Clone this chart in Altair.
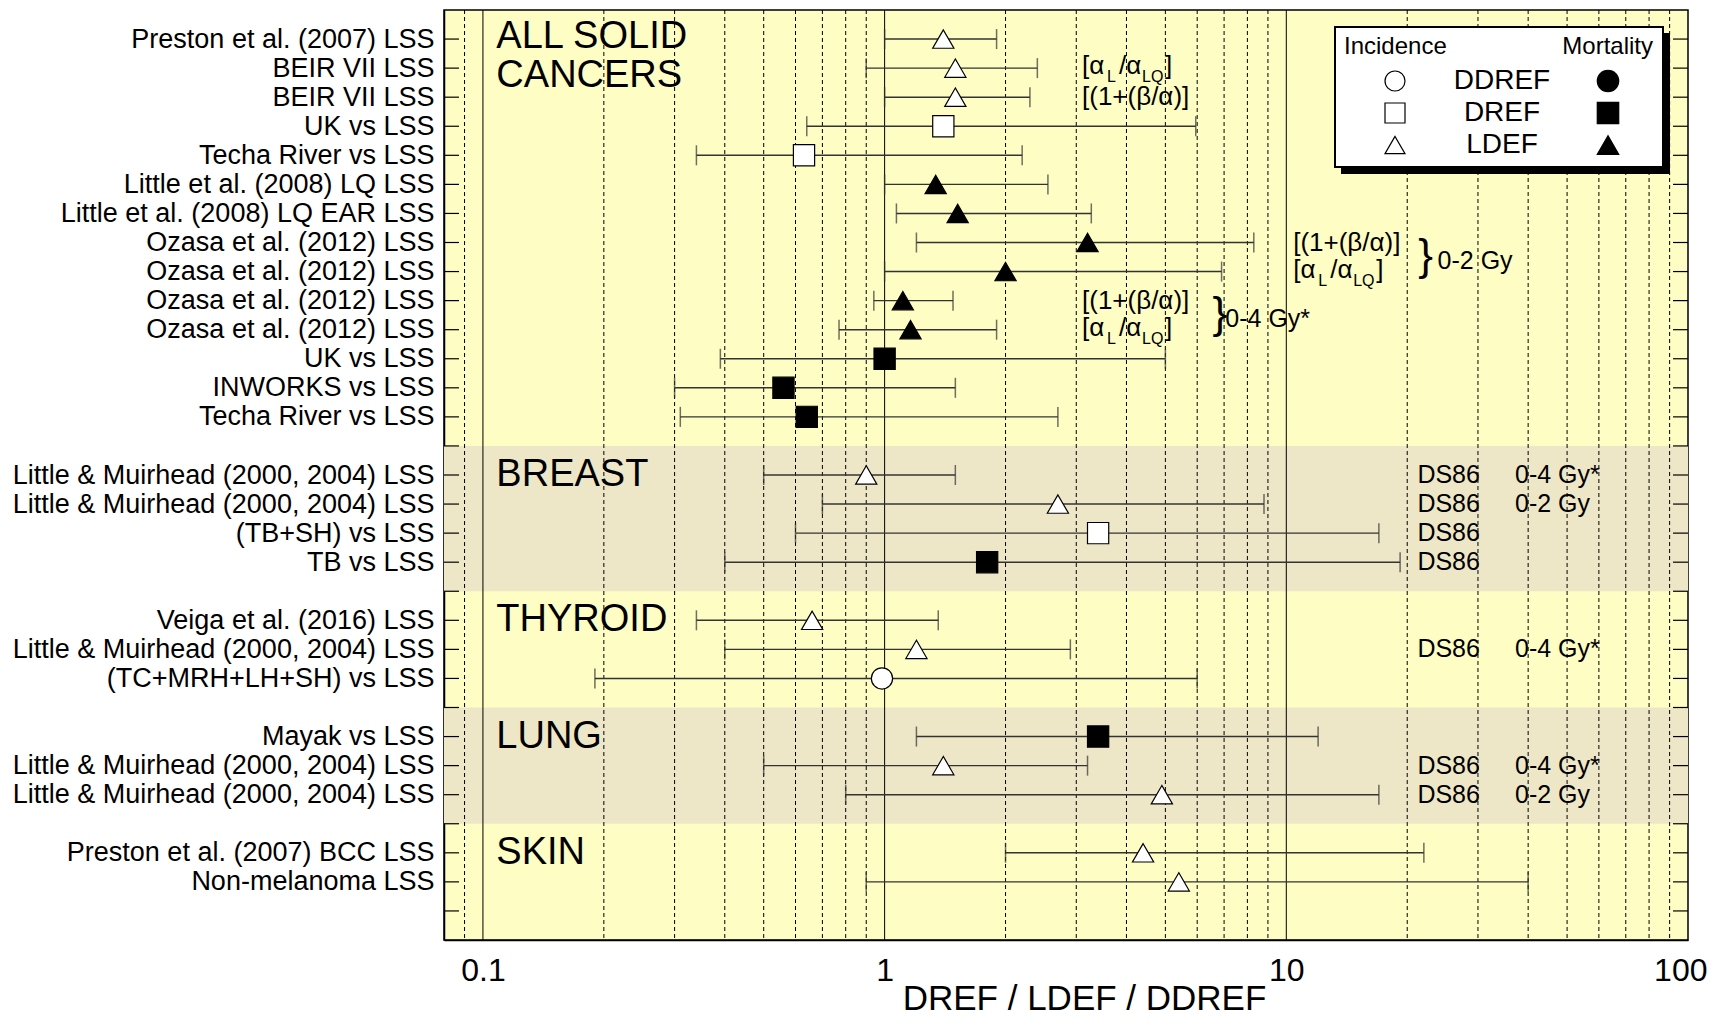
import json
import altair as alt
import pandas as pd

FONT = "Liberation Sans, Arial, Helvetica, sans-serif"
YELLOW = "#FDFDC4"
BEIGE = "#EEE7C7"
LINE = "#333333"

# ---------------- data ----------------
groups = ["ALL SOLID\nCANCERS", "BREAST", "THYROID", "LUNG", "SKIN"]
shaded_groups = ["BREAST", "LUNG"]

labels = [
    "Preston et al. (2007) LSS", "BEIR VII LSS", "BEIR VII LSS", "UK vs LSS",
    "Techa River vs LSS", "Little et al. (2008) LQ LSS", "Little et al. (2008) LQ EAR LSS",
    "Ozasa et al. (2012) LSS", "Ozasa et al. (2012) LSS", "Ozasa et al. (2012) LSS",
    "Ozasa et al. (2012) LSS", "UK vs LSS", "INWORKS vs LSS", "Techa River vs LSS",
    "Little & Muirhead (2000, 2004) LSS", "Little & Muirhead (2000, 2004) LSS",
    "(TB+SH) vs LSS", "TB vs LSS",
    "Veiga et al. (2016) LSS", "Little & Muirhead (2000, 2004) LSS", "(TC+MRH+LH+SH) vs LSS",
    "Mayak vs LSS", "Little & Muirhead (2000, 2004) LSS", "Little & Muirhead (2000, 2004) LSS",
    "Preston et al. (2007) BCC LSS", "Non-melanoma LSS",
]
group_of = ["ALL SOLID\nCANCERS"] * 14 + ["BREAST"] * 4 + ["THYROID"] * 3 + ["LUNG"] * 3 + ["SKIN"] * 2
measure = [
    "LDEF", "LDEF", "LDEF", "DREF", "DREF", "LDEF", "LDEF", "LDEF", "LDEF", "LDEF", "LDEF",
    "DREF", "DREF", "DREF",
    "LDEF", "LDEF", "DREF", "DREF",
    "LDEF", "LDEF", "DDREF",
    "DREF", "LDEF", "LDEF",
    "LDEF", "LDEF",
]
endpoint = (["Incidence"] * 5 + ["Mortality"] * 9 + ["Incidence"] * 3 + ["Mortality"]
            + ["Incidence"] * 3 + ["Mortality"] + ["Incidence"] * 4)
estimate = [1.40, 1.50, 1.50, 1.40, 0.63, 1.34, 1.52, 3.20, 2.00, 1.11, 1.16, 1.00, 0.56, 0.64,
            0.90, 2.70, 3.40, 1.80,
            0.66, 1.20, 0.985,
            3.40, 1.40, 4.90,
            4.40, 5.40]
lower = [1.00, 0.90, 1.00, 0.64, 0.34, 1.00, 1.07, 1.20, 1.00, 0.94, 0.77, 0.39, 0.30, 0.31,
         0.50, 0.70, 0.60, 0.40,
         0.34, 0.40, 0.19,
         1.20, 0.50, 0.80,
         2.00, 0.90]
upper = [1.90, 2.40, 2.30, 5.95, 2.20, 2.55, 3.27, 8.30, 6.90, 1.48, 1.90, 5.00, 1.50, 2.70,
         1.50, 8.80, 17.0, 19.2,
         1.36, 2.90, 6.00,
         12.0, 3.20, 17.0,
         22.0, 40.0]
dosimetry = [""] * 14 + ["DS86"] * 4 + ["", "DS86", ""] + ["", "DS86", "DS86"] + ["", ""]
dose_range = ([""] * 14 + ["0-4 Gy*", "0-2 Gy", "", ""] + ["", "0-4 Gy*", ""]
              + ["", "0-4 Gy*", "0-2 Gy"] + ["", ""])

# model-fit notes (study index, kind, x anchor on the DREF axis)
note_study = [1, 2, 7, 8, 9, 10]
note_kind = ["ratio", "beta", "beta", "ratio", "beta", "ratio"]
note_x = [3.1, 3.1, 10.4, 10.4, 3.1, 3.1]
# dose-range braces for Ozasa et al. pairs (first study index of pair)
brace_study = [7, 9]
brace_text = ["0-2 Gy", "0-4 Gy*"]
brace_x = [21.3, 6.55]
brace_label_x = [23.8, 7.05]

x_domain = [0.08, 100]
x_major = [0.1, 1, 10]
x_minor = ([0.09] + [v / 10 for v in range(2, 10)] + list(range(2, 10))
           + list(range(20, 100, 10)))
x_labels = [0.1, 1, 10, 100]

legend_measures = ["DDREF", "DREF", "LDEF"]
legend_shapes = ["circle", "square", "triangle-up"]

# ---------------- derived table ----------------
rows = []
r = 0
prev = None
for g in group_of:
    r += 2 if (prev is not None and g != prev) else 1
    rows.append(r)
    prev = g
last_row = rows[-1]

df = pd.DataFrame({
    "label": labels, "group": group_of, "row": rows, "est": estimate, "lo": lower,
    "hi": upper, "measure": measure, "endpoint": endpoint,
    "dosimetry": dosimetry, "dose": dose_range,
})

W, H = 1244, 930
xscale = alt.Scale(type="log", domain=x_domain, nice=False)
yscale = alt.Scale(domain=[0, last_row + 2], reverse=True, nice=False, zero=False)

label_arr = [""] * (last_row + 3)
for rr, lab in zip(rows, labels):
    label_arr[rr] = lab
label_expr = json.dumps(label_arr) + "[datum.value]"

X_TITLE = "DREF / LDEF / DDREF"
x_axis = alt.Axis(values=x_labels, format="~g", ticks=False, grid=False,
                  domainColor="black", domainWidth=1.5,
                  labelFont=FONT, labelFontSize=32, labelColor="black",
                  labelPadding=15, labelFlush=True, labelFlushOffset=19,
                  labelOverlap=False,
                  titleFont=FONT, titleFontSize=35, titleFontWeight="normal",
                  titleColor="black", titleX=640, titleY=58,
                  titleBaseline="middle", titleAlign="center")
y_axis = alt.Axis(values=rows, labelExpr=label_expr, ticks=False, grid=False,
                  domainColor="black", domainWidth=1.5,
                  labelFont=FONT, labelFontSize=27, labelColor="black",
                  labelPadding=10, labelLimit=600, labelOverlap=False)


def X(field):
    return alt.X(field, scale=xscale, axis=x_axis, title=X_TITLE)


def Y(field):
    return alt.Y(field, scale=yscale, axis=y_axis, title=None)


# bands
band_rows = []
for g in groups:
    grp_rows = [rr for rr, gg in zip(rows, group_of) if gg == g]
    if g in shaded_groups:
        band_rows.append({"y0": min(grp_rows) - 1, "y1": max(grp_rows) + 1})
bands = alt.Chart(pd.DataFrame(band_rows)).mark_rect(color=BEIGE).encode(
    y=Y("y0:Q"), y2="y1:Q", x=alt.value(0), x2=alt.value(W))

grid_minor = alt.Chart(pd.DataFrame({"v": x_minor})).mark_rule(
    color="black", strokeWidth=1, strokeDash=[4, 3]).encode(x=X("v:Q"))
grid_major = alt.Chart(pd.DataFrame({"v": x_major})).mark_rule(
    color="black", strokeWidth=1).encode(x=X("v:Q"))

ci = alt.Chart(df).mark_rule(color=LINE, strokeWidth=1.4).encode(
    x=X("lo:Q"), x2="hi:Q", y=Y("row:Q"))
cap_lo = alt.Chart(df).mark_tick(orient="vertical", size=20, thickness=1.5, color=LINE).encode(
    x=X("lo:Q"), y=Y("row:Q"))
cap_hi = alt.Chart(df).mark_tick(orient="vertical", size=20, thickness=1.5, color=LINE).encode(
    x=X("hi:Q"), y=Y("row:Q"))

points = alt.Chart(df).mark_point(filled=True, size=450, stroke="black",
                                  strokeWidth=1.2, opacity=1).encode(
    x=X("est:Q"), y=Y("row:Q"),
    shape=alt.Shape("measure:N", scale=alt.Scale(domain=legend_measures, range=legend_shapes),
                    legend=None),
    fill=alt.Fill("endpoint:N", scale=alt.Scale(domain=["Incidence", "Mortality"],
                                                range=["white", "black"]), legend=None),
)

# group titles (first line sits on the group's first row; extra lines run downward)
title_rows = []
for g in groups:
    first = min(rr for rr, gg in zip(rows, group_of) if gg == g)
    n = g.count("\n") + 1
    title_rows.append({"t": g, "row": first - 0.07 * (n - 1), "x": 0.108})
group_titles = alt.Chart(pd.DataFrame(title_rows)).mark_text(
    font=FONT, fontSize=38, align="left", baseline="middle", color="black",
    lineBreak="\n", lineHeight=39).encode(
    x=X("x:Q"), y=Y("row:Q"), text="t:N")

# model notes
notes_df = pd.DataFrame({"row": [rows[i] for i in note_study], "kind": note_kind, "x": note_x})
note_layers = []
ratio_pieces = [("[α", 0, -2, 26), ("L", 25, 9, 16), ("/α", 37, -2, 26),
                ("LQ", 60, 9, 16), ("]", 83, -2, 26)]
for txt, dx, dy, fs in ratio_pieces:
    note_layers.append(
        alt.Chart(notes_df).transform_filter(alt.datum.kind == "ratio").mark_text(
            text=txt, font=FONT, fontSize=fs, align="left", baseline="middle",
            color="black", dx=dx, dy=dy).encode(x=X("x:Q"), y=Y("row:Q")))
note_layers.append(
    alt.Chart(notes_df).transform_filter(alt.datum.kind == "beta").mark_text(
        text="[(1+(β/α)]", font=FONT, fontSize=26, align="left", baseline="middle",
        color="black", dy=0).encode(x=X("x:Q"), y=Y("row:Q")))

braces_df = pd.DataFrame({"row": [rows[i] + 0.5 for i in brace_study], "bx": brace_x,
                          "lx": brace_label_x, "t": brace_text})
braces = alt.Chart(braces_df).mark_text(
    text="}", font=FONT, fontSize=44, align="left", baseline="middle", color="black").encode(
    x=X("bx:Q"), y=Y("row:Q"))
brace_labels = alt.Chart(braces_df).mark_text(
    font=FONT, fontSize=25, align="left", baseline="middle", color="black", dy=4).encode(
    x=X("lx:Q"), y=Y("row:Q"), text="t:N")

ds_text = alt.Chart(df).transform_filter(alt.datum.dosimetry != "").transform_calculate(
    dx0="21.2").mark_text(
    font=FONT, fontSize=25, align="left", baseline="middle", color="black").encode(
    x=X("dx0:Q"), y=Y("row:Q"), text="dosimetry:N")
dose_text = alt.Chart(df).transform_filter(alt.datum.dose != "").transform_calculate(
    dx1="37.1").mark_text(
    font=FONT, fontSize=25, align="left", baseline="middle", color="black").encode(
    x=X("dx1:Q"), y=Y("row:Q"), text="dose:N")

# inner axis ticks (left and right)
ticks_df = pd.DataFrame({"t": list(range(1, last_row + 2))})
ticks_left = alt.Chart(ticks_df).mark_rule(color="black", strokeWidth=1.2).encode(
    y=Y("t:Q"), x=alt.value(0), x2=alt.value(15))
ticks_right = alt.Chart(ticks_df).mark_rule(color="black", strokeWidth=1.2).encode(
    y=Y("t:Q"), x=alt.value(W - 15), x2=alt.value(W))

# legend box (drawn manually: two columns Incidence / Mortality)
one = pd.DataFrame({"k": [0]})
legend_layers = [
    alt.Chart(one).mark_rect(color="black").encode(
        x=alt.value(897), x2=alt.value(1226), y=alt.value(23), y2=alt.value(164)),
    alt.Chart(one).mark_rect(fill="white", stroke="black", strokeWidth=2).encode(
        x=alt.value(891), x2=alt.value(1219), y=alt.value(17), y2=alt.value(157)),
    alt.Chart(pd.DataFrame({"t": ["Incidence"]})).mark_text(
        font=FONT, fontSize=24, align="left", baseline="middle", color="black").encode(
        text="t:N", x=alt.value(900), y=alt.value(37)),
    alt.Chart(pd.DataFrame({"t": ["Mortality"]})).mark_text(
        font=FONT, fontSize=24, align="right", baseline="middle", color="black").encode(
        text="t:N", x=alt.value(1209), y=alt.value(37)),
]
for i, (m, shp) in enumerate(zip(legend_measures, legend_shapes)):
    yy = 71 + i * 32
    legend_layers += [
        alt.Chart(pd.DataFrame({"t": [m]})).mark_text(
            font=FONT, fontSize=28, align="center", baseline="middle", color="black").encode(
            text="t:N", x=alt.value(1058), y=alt.value(yy)),
        alt.Chart(one).mark_point(shape=shp, filled=True, fill="white", stroke="black",
                                  strokeWidth=1.2, size=400, opacity=1).encode(
            x=alt.value(951), y=alt.value(yy)),
        alt.Chart(one).mark_point(shape=shp, filled=True, fill="black", stroke="black",
                                  strokeWidth=1.2, size=460, opacity=1).encode(
            x=alt.value(1164), y=alt.value(yy)),
    ]

chart = alt.layer(
    bands, grid_minor, grid_major, ci, cap_lo, cap_hi, points, group_titles,
    *note_layers, braces, brace_labels, ds_text, dose_text, ticks_left, ticks_right,
    *legend_layers,
).properties(
    width=W, height=H,
    autosize=alt.AutoSizeParams(type="none"),
    padding={"left": 436, "top": 2, "right": 25, "bottom": 75},
    background="white",
).configure_view(fill=YELLOW, stroke="black", strokeWidth=1.5)

chart.save("out.html", embed_options={"renderer": "svg", "actions": False})
